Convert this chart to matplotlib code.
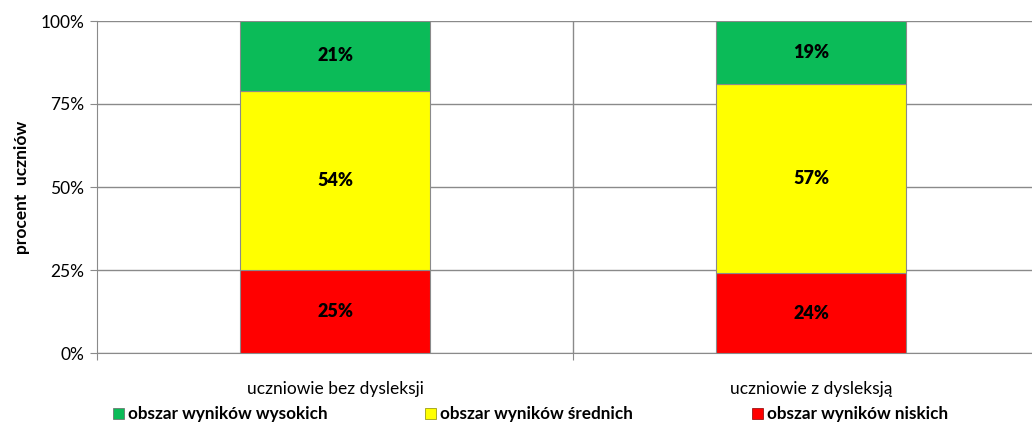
import matplotlib.pyplot as plt
from matplotlib.patches import Patch
import numpy as np

plt.rcParams['font.family'] = ['Lato', 'DejaVu Sans']

categories = ["uczniowie bez dysleksji", "uczniowie z dysleksją"]
series = ["obszar wyników niskich", "obszar wyników średnich", "obszar wyników wysokich"]
low = [25, 24]
mid = [54, 57]
high = [21, 19]
colors = ["#FF0000", "#FFFF00", "#0BBB58"]

fig = plt.figure(figsize=(10.32, 4.23), dpi=100)
ax = fig.add_axes([97 / 1032, 70 / 423, 952 / 1032, 332 / 423])

x = np.arange(len(categories))
bottom = np.zeros(len(categories))
for vals, col in zip([low, mid, high], colors):
    vals = np.array(vals)
    ax.bar(x, vals, 0.4, bottom=bottom, color=col, edgecolor="#8a8a8a", linewidth=0.8, zorder=3)
    for xi, b, v in zip(x, bottom, vals):
        ax.text(xi, b + v / 2, f"{v}%", ha="center", va="center", fontsize=13,
                fontweight="heavy", color="black", zorder=4)
    bottom += vals

ax.set_xlim(-0.5, 1.5)
ax.set_ylim(0, 100)
ax.set_yticks([0, 25, 50, 75, 100])
ax.set_yticklabels(["0%", "25%", "50%", "75%", "100%"], fontsize=12.5)
ax.set_xticks([-0.5, 0.5, 1.5])
ax.set_xticklabels([])
ax.set_xticks(x, minor=True)
ax.set_xticklabels(categories, minor=True, fontsize=12.5)
ax.tick_params(axis="x", which="minor", length=0, pad=20)
ax.tick_params(axis="x", which="major", length=5, color="#8a8a8a")
ax.tick_params(axis="y", length=5, color="#8a8a8a", pad=4)

ax.grid(True, axis="y", color="#8a8a8a", linewidth=1, zorder=0)
ax.axvline(0.5, color="#8a8a8a", linewidth=1, zorder=0)
for s in ["top", "right"]:
    ax.spines[s].set_visible(False)
ax.spines["left"].set_color("#8a8a8a")
ax.spines["bottom"].set_color("#8a8a8a")
ax.axhline(100, color="#555555", linewidth=1.2, zorder=1)

ax.set_ylabel("procent  uczniów", fontsize=12.5, fontweight="bold", labelpad=8)

# legend entries placed one by one, like the original layout
legend_items = [(series[2], colors[2], "#666666", 98),
                (series[1], colors[1], "#888800", 410),
                (series[0], colors[0], "#880000", 737)]
for label, face, edge, px in legend_items:
    fig.legend([Patch(facecolor=face, edgecolor=edge, linewidth=0.5)], [label],
               loc="lower left", bbox_to_anchor=(px / 1032, -0.035),
               frameon=False, prop={"weight": "bold", "size": 12.3},
               handlelength=0.6, handleheight=0.6, handletextpad=0.25)

fig.savefig("out.png", dpi=100)
